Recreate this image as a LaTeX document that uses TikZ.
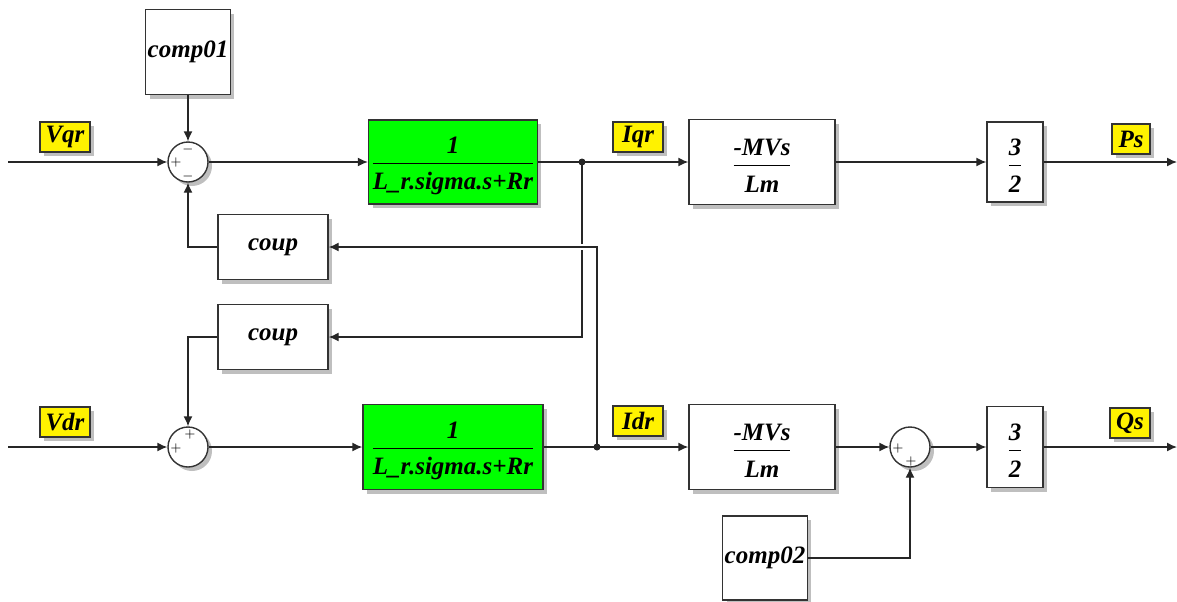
\documentclass[tikz,border=0pt]{standalone}
\usepackage{amsmath}
\usepackage{fontspec}
\setmainfont{Liberation Serif}
\usetikzlibrary{arrows.meta}
\usetikzlibrary{shadows}

\newcommand{\blkfrac}[2]{$\dfrac{\text{\rule{0pt}{12pt}#1}}{\text{\rule{0pt}{11.5pt}#2}}$}

\tikzset{
  blk/.style={draw=black!80, fill=white, line width=0.7pt, inner sep=1pt,
    drop shadow={shadow xshift=2pt, shadow yshift=-2pt, opacity=0.5},
    font=\fontsize{12.5}{15}\selectfont\bfseries\itshape},
  grn/.style={blk, fill=green},
  tag/.style={blk, fill=yellow, minimum width=25pt, minimum height=15pt, inner sep=0pt},
  sum/.style={circle, draw=black!80, fill=white, line width=0.7pt, minimum size=20pt, inner sep=0pt,
    drop shadow={shadow xshift=2pt, shadow yshift=-2pt, opacity=0.5}},
  sgn/.style={inner sep=0pt, font=\fontsize{6}{6}\selectfont},
  wire/.style={line width=0.7pt, draw=black!85},
  tip/.style={-{Latex[length=5pt,width=4.5pt]}},
}

\begin{document}
\begin{tikzpicture}[x=0.5pt,y=-0.5pt]
  \useasboundingbox (0,0) rectangle (1177,601);
  % upper path (q axis)
  \coordinate (inq) at (8,162);
  \coordinate (outp) at (1177,162);
  \coordinate (d1) at (582,162);
  \node[blk, minimum width=42pt, minimum height=42.5pt] (c1) at (188,52) {comp01};
  \node[sum] (s1) at (188,162) {};
  \node[sgn] (s1l) at (176,162) {$+$};
  \node[sgn] (s1t) at (188,149) {$-$};
  \node[sgn] (s1b) at (188,176) {$-$};
  \node[grn, minimum width=83.5pt, minimum height=42pt] (g1) at (453,162) {\blkfrac{1}{L\_r.sigma.s+Rr}};
  \node[blk, minimum width=73pt, minimum height=42.5pt] (m1) at (762,162) {\blkfrac{-MVs}{Lm}};
  \node[blk, minimum width=28pt, minimum height=40pt] (h1) at (1015,162) {\blkfrac{3}{2}};
  \node[blk, minimum width=55pt, minimum height=32.5pt] (u1) at (273,247) {coup};
  \node[blk, minimum width=55pt, minimum height=32.5pt] (u2) at (273,337) {coup};
  % lower path (d axis)
  \coordinate (ind) at (8,447);
  \coordinate (outd) at (1177,447);
  \coordinate (d2) at (597,447);
  \node[sum] (s2) at (188,447) {};
  \node[sgn] (s2l) at (176,448) {$+$};
  \node[sgn] (s2t) at (190,434) {$+$};
  \node[grn, minimum width=90pt, minimum height=42.5pt] (g2) at (453,447) {\blkfrac{1}{L\_r.sigma.s+Rr}};
  \node[blk, minimum width=73pt, minimum height=42.5pt] (m2) at (762,447) {\blkfrac{-MVs}{Lm}};
  \node[sum] (s3) at (910,447) {};
  \node[sgn] (s3l) at (898,448) {$+$};
  \node[sgn] (s3b) at (911,461) {$+$};
  \node[blk, minimum width=28pt, minimum height=40.5pt] (h2) at (1015,447) {\blkfrac{3}{2}};
  \node[blk, minimum width=41.5pt, minimum height=42pt] (c2) at (765,558) {comp02};
  % signal tags
  \node[tag] (tvq) at (65,137) {Vqr};
  \node[tag] (tiq) at (638,137) {Iqr};
  \node[tag, minimum width=19pt] (tps) at (1131,139) {Ps};
  \node[tag] (tvd) at (65,422) {Vdr};
  \node[tag] (tid) at (638,421) {Idr};
  \node[tag, minimum width=20pt] (tqs) at (1130,423) {Qs};
  % wires
  \draw[wire,tip] (inq) -- (s1);
  \draw[wire,tip] (c1) -- (s1);
  \draw[wire,tip] (s1) -- (g1);
  \draw[wire] (g1) -- (d1);
  \draw[wire,tip] (d1) -- (m1);
  \draw[wire,tip] (m1) -- (h1);
  \draw[wire,tip] (h1) -- (outp);
  \draw[wire,tip] (u1.west) -| (s1.south);
  \draw[wire,tip] (u2.west) -| (s2.north);
  \draw[wire,tip] (d1) |- (u2.east);
  \draw[white, line width=3pt] (590,247) -- (574,247);
  \draw[wire,tip] (d2) |- (u1.east);
  \draw[wire,tip] (ind) -- (s2);
  \draw[wire,tip] (s2) -- (g2);
  \draw[wire] (g2) -- (d2);
  \draw[wire,tip] (d2) -- (m2);
  \draw[wire,tip] (m2) -- (s3);
  \draw[wire,tip] (s3) -- (h2);
  \draw[wire,tip] (h2) -- (outd);
  \draw[wire,tip] (c2.east) -| (s3.south);
  \fill[black!85] (d1) circle (3.5);
  \fill[black!85] (d2) circle (3.5);
\end{tikzpicture}
\end{document}
